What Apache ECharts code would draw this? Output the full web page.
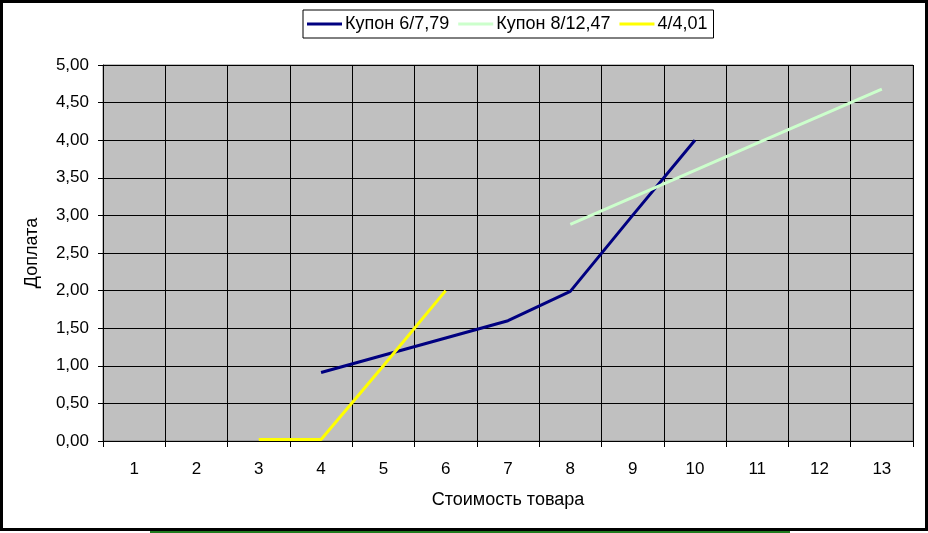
<!DOCTYPE html>
<html>
<head>
<meta charset="utf-8">
<script src="https://cdn.jsdelivr.net/npm/echarts@6/dist/echarts.min.js"></script>
<style>
html,body{margin:0;padding:0;background:#fff;}
#frame{position:absolute;left:0;top:0;width:928px;height:531px;box-sizing:border-box;border:3px solid #000;}
#strip{position:absolute;left:150px;top:531px;width:640px;height:2px;background:#1f7a1f;}
#chart{position:absolute;left:0;top:0;width:928px;height:533px;}
</style>
</head>
<body>
<div id="frame"></div>
<div id="strip"></div>
<div id="chart"></div>
<script>
const categories = ['1','2','3','4','5','6','7','8','9','10','11','12','13'];
const seriesNames = ['Купон 6/7,79', 'Купон 8/12,47', '4/4,01'];
const kupon6 = [null, null, null, 0.91, 1.14, 1.37, 1.60, 1.99, 3.00, 4.00, null, null, null];
const kupon8 = [null, null, null, null, null, null, null, 2.88, 3.24, 3.60, 3.96, 4.32, 4.68];
const kupon4 = [null, null, 0.02, 0.02, 1.00, 2.00, null, null, null, null, null, null, null];
const colors = ['#000080', '#CCFFCC', '#FFFF00'];

const chart = echarts.init(document.getElementById('chart'), null, {renderer: 'canvas'});
const font = 'Liberation Sans, Arial, sans-serif';
const mk = (name, data, color) => ({
  name, type: 'line', data, symbol: 'none', showSymbol: false,
  lineStyle: {color, width: 3}, itemStyle: {color},
  connectNulls: false, animation: false
});
chart.setOption({
  animation: false,
  textStyle: {fontFamily: font},
  legend: {
    left: 303, top: 10, width: 'auto',
    borderColor: '#000', borderWidth: 1, padding: [5, 6, 5, 4],
    itemWidth: 35, itemHeight: 3, itemGap: 9,
    textStyle: {fontFamily: font, fontSize: 18, color: '#000', padding: [0,0,0,-2]},
    data: seriesNames.map((n, i) => ({name: n, icon: 'rect', itemStyle: {color: colors[i]}}))
  },
  grid: {
    left: 103, right: 15, top: 65, bottom: 92,
    show: true, backgroundColor: '#C0C0C0', borderColor: '#808080', borderWidth: 1
  },
  xAxis: {
    type: 'category', data: categories, boundaryGap: true,
    name: 'Стоимость товара', nameLocation: 'middle', nameGap: 50,
    nameTextStyle: {fontFamily: font, fontSize: 18, color: '#000'},
    axisLine: {show: true, lineStyle: {color: '#000', width: 1}},
    axisTick: {show: true, alignWithLabel: false, length: 6, lineStyle: {color: '#000'}},
    axisLabel: {fontFamily: font, fontSize: 17, color: '#000', margin: 20, interval: 0},
    splitLine: {show: true, interval: 0, lineStyle: {color: '#000', width: 1}}
  },
  yAxis: {
    type: 'value', min: 0, max: 5, interval: 0.5,
    name: 'Доплата', nameLocation: 'middle', nameGap: 62, nameRotate: 90,
    nameTextStyle: {fontFamily: font, fontSize: 18, color: '#000'},
    axisLine: {show: true, lineStyle: {color: '#000', width: 1}},
    axisTick: {show: true, length: 5, lineStyle: {color: '#000'}},
    axisLabel: {fontFamily: font, fontSize: 17, color: '#000', margin: 14,
      formatter: v => v.toFixed(2).replace('.', ',')},
    splitLine: {show: true, lineStyle: {color: '#000', width: 1}}
  },
  series: [
    mk(seriesNames[0], kupon6, colors[0]),
    mk(seriesNames[1], kupon8, colors[1]),
    mk(seriesNames[2], kupon4, colors[2])
  ]
});
</script>
</body>
</html>
